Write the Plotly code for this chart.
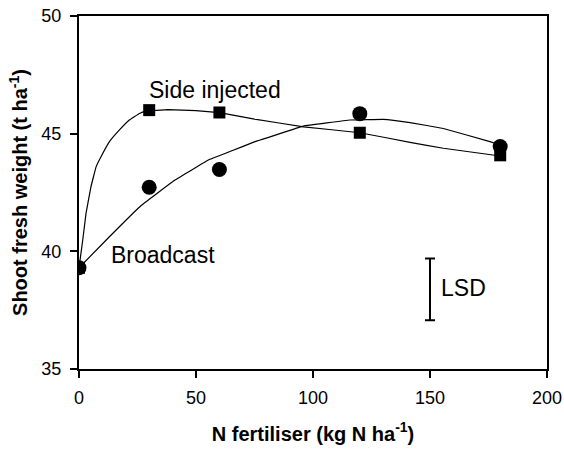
import plotly.graph_objects as go

# Observed means
n_rate = [0, 30, 60, 120, 180]
side_injected = [39.3, 46.0, 45.9, 45.04, 44.08]
broadcast = [39.3, 42.72, 43.48, 45.85, 44.45]

# Fitted response curves
side_fit_x = [0, 1.6, 3.0, 5.1, 7.3, 9.4, 13.0, 17.2, 21.5, 25.8, 28.6, 38, 50, 60, 75, 96, 120, 141.5, 155.7, 180]
side_fit_y = [39.3, 40.48, 41.61, 42.74, 43.59, 44.02, 44.66, 45.15, 45.58, 45.86, 45.96, 46.02, 45.98, 45.89, 45.62, 45.29, 45.04, 44.63, 44.38, 44.05]
bc_fit_x = [0, 13, 26.8, 41, 55.3, 64.5, 75.2, 95.9, 115.8, 130, 141.5, 155.7, 175.6, 180]
bc_fit_y = [39.3, 40.62, 41.97, 43.03, 43.88, 44.24, 44.66, 45.32, 45.58, 45.61, 45.47, 45.22, 44.66, 44.52]

# LSD bar
lsd_x = [150]
lsd_low = 37.07
lsd_high = 39.70

x_ticks = [0, 50, 100, 150, 200]
y_ticks = [35, 40, 45, 50]

FONT = "Liberation Sans, Arial, sans-serif"

fig = go.Figure()
fig.add_trace(go.Scatter(x=side_fit_x, y=side_fit_y, mode="lines",
                         line=dict(color="black", width=1.2, shape="spline", smoothing=0.15),
                         hoverinfo="skip"))
fig.add_trace(go.Scatter(x=bc_fit_x, y=bc_fit_y, mode="lines",
                         line=dict(color="black", width=1.2, shape="spline", smoothing=0.15),
                         hoverinfo="skip"))
fig.add_trace(go.Scatter(x=n_rate, y=broadcast, mode="markers", name="Broadcast",
                         marker=dict(symbol="circle", size=15, color="black")))
fig.add_trace(go.Scatter(x=n_rate, y=side_injected, mode="markers", name="Side injected",
                         marker=dict(symbol="square", size=12, color="black")))
mid = (lsd_low + lsd_high) / 2
half = (lsd_high - lsd_low) / 2
fig.add_trace(go.Scatter(x=lsd_x, y=[mid], mode="markers",
                         marker=dict(size=1, color="rgba(0,0,0,0)"),
                         error_y=dict(type="data", array=[half], visible=True,
                                      color="black", thickness=2, width=5),
                         hoverinfo="skip"))

fig.add_annotation(x=28.9, y=46.87, text="Side injected", showarrow=False,
                   xanchor="left", yanchor="middle", font=dict(size=23, family=FONT, color="black"))
fig.add_annotation(x=12.95, y=39.84, text="Broadcast", showarrow=False,
                   xanchor="left", yanchor="middle", font=dict(size=23, family=FONT, color="black"))
fig.add_annotation(x=154.0, y=38.43, text="LSD", showarrow=False,
                   xanchor="left", yanchor="middle", font=dict(size=23, family=FONT, color="black"))

axis_common = dict(showgrid=False, zeroline=False, showline=True, linecolor="black",
                   linewidth=2, mirror=True, ticks="outside", ticklen=7, tickwidth=2,
                   tickcolor="black", tickfont=dict(size=18, family=FONT, color="black"))

fig.update_xaxes(range=[0, 200], tickvals=x_ticks, automargin=False, ticklabelstandoff=4,
                 title=dict(text="<b>N fertiliser (kg N ha<sup>-1</sup>)</b>",
                            font=dict(size=20, family=FONT, color="black"), standoff=20),
                 **axis_common)
fig.update_yaxes(range=[35, 50], tickvals=y_ticks, automargin=False, ticklabelstandoff=5,
                 title=dict(text="<b>Shoot fresh weight (t ha<sup>-1</sup>)</b>",
                            font=dict(size=20, family=FONT, color="black"), standoff=8),
                 **axis_common)

fig.update_layout(width=564, height=450, showlegend=False,
                  margin=dict(l=79, r=17, t=16, b=81),
                  plot_bgcolor="white", paper_bgcolor="white",
                  font=dict(family=FONT, color="black"))

fig.write_html("out.html", config={"displayModeBar": False},
               post_script="document.body.style.margin='0';document.body.style.overflow='hidden';")
